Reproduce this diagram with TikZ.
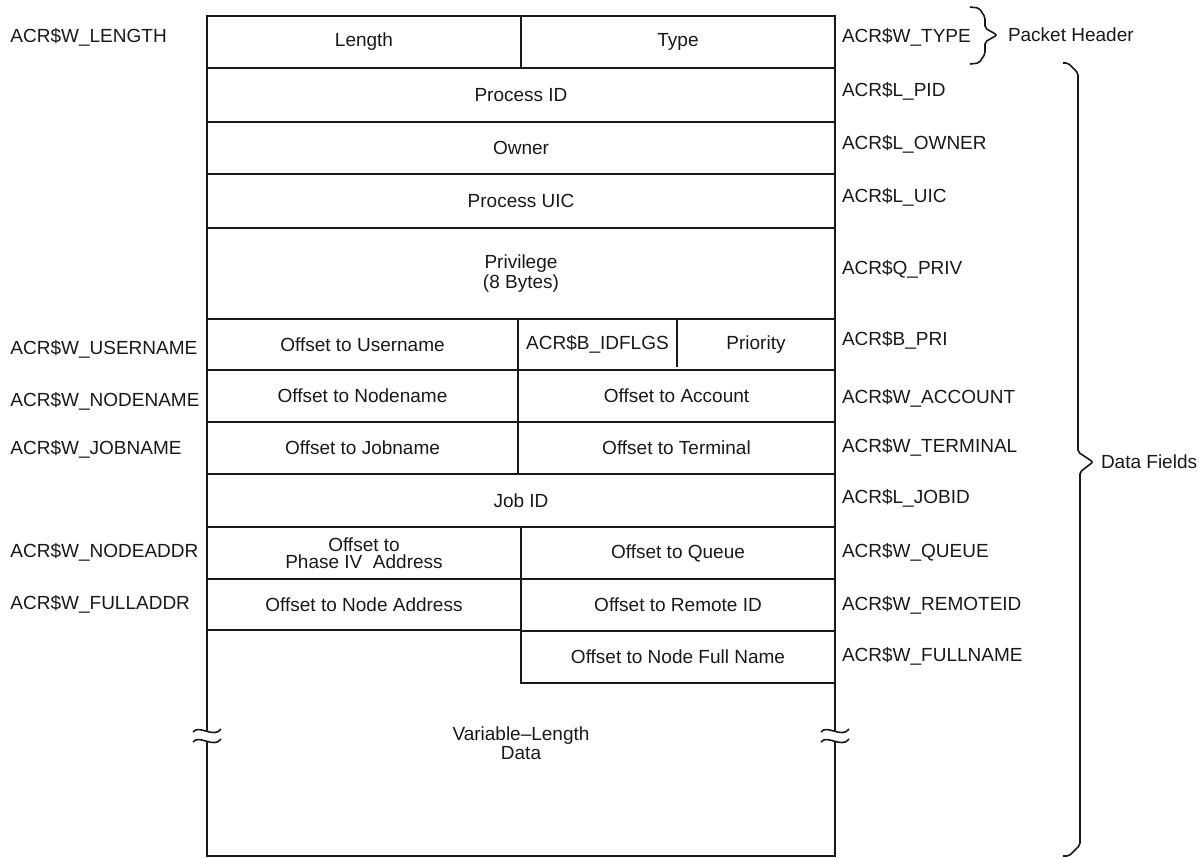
\documentclass[tikz,border=0pt]{standalone}
\usepackage{fontspec}
\setmainfont{Liberation Sans}
\usepackage{tikz}
\usetikzlibrary{fit}
\def\boxl{207}
\def\boxr{835}
\def\lblsep{841}

\begin{document}
\begin{tikzpicture}[x=0.5pt,y=-0.5pt,line width=1pt,color=black!90,
    font=\fontsize{9.5}{8.5}\selectfont]
    \tikzstyle{cell}=[draw,inner sep=0pt]
    \tikzstyle{field}=[anchor=base west,inner sep=0pt]
    \tikzstyle{txt}=[inner sep=0pt,align=center]
    \tikzstyle{brace}=[line width=0.8pt,rounded corners=1pt]
    \tikzstyle{wave}=[line width=0.8pt]

    \useasboundingbox (0,0) rectangle (1201,858);

    % Draw the packet header
    \node[cell,fit={(\boxl,16) (521,68)}] (len) {};
    \node[txt] at (len.center) {Length};
    \node[cell,fit={(521,16) (\boxr,68)}] (type) {};
    \node[txt] at (type.center) {Type};

    % Draw the full width rows
    \foreach \name/\ytop/\ybot/\txt in {pid/68/122/Process ID,owner/122/174/Owner,
        uic/174/228/Process UIC,priv/228/319/Privilege\\(8 Bytes),jobid/474/527/Job ID}
    {
        \node[cell,fit={(\boxl,\ytop) (\boxr,\ybot)}] (\name) {};
        \node[txt] at (\name.center) {\txt};
    }

    % Draw the half width rows
    \foreach \name/\xl/\xr/\ytop/\ybot/\txt in {usr/\boxl/518/319/370/Offset to Username,
        nodnm/\boxl/518/370/422/Offset to Nodename,acct/518/\boxr/370/422/Offset to Account,
        jobnm/\boxl/518/422/474/Offset to Jobname,term/518/\boxr/422/474/Offset to Terminal,
        ph4/\boxl/521/527/579/Offset to\\Phase IV\ \ Address,queue/521/\boxr/527/579/Offset to Queue,
        naddr/\boxl/521/579/630/Offset to Node Address,rid/521/\boxr/579/631/Offset to Remote ID,
        fname/521/\boxr/631/683/Offset to Node Full Name}
    {
        \node[cell,fit={(\xl,\ytop) (\xr,\ybot)}] (\name) {};
        \node[txt] at (\name.center) {\txt};
    }

    % The flags and priority share one half row
    \node[cell,fit={(518,319) (\boxr,370)}] (flgrow) {};
    \node[txt,anchor=base] (flg) at (597.5,349) {ACR\$B\_IDFLGS};
    \node[txt,anchor=base] (prio) at (756,349) {Priority};
    \draw (677,319) -- (677,367);

    % Draw the variable length data area
    \draw (\boxl,630) -- (\boxl,731);
    \draw (\boxl,741) -- (\boxl,856) -- (\boxr,856) -- (\boxr,741);
    \draw (\boxr,731) -- (\boxr,683);
    \foreach \x in {\boxl,\boxr}
        \foreach \y in {731,741}
            \draw[wave] (\x-14,\y+1) .. controls (\x-8,\y-7) and (\x+7,\y+8) .. (\x+14,\y-2);
    \node[txt] (vdata) at (521,743) {Variable\textendash Length\\Data};

    % Label the fields on the left
    \foreach \name/\y/\txt in {wlen/42/ACR\$W\_LENGTH,wusr/354/ACR\$W\_USERNAME,
        wnod/406/ACR\$W\_NODENAME,wjob/454/ACR\$W\_JOBNAME,
        wnaddr/557/ACR\$W\_NODEADDR,wfaddr/609/ACR\$W\_FULLADDR}
        \node[field] (\name) at (9.5,\y) {\txt};

    % Label the fields on the right
    \foreach \name/\y/\txt in {wtype/42/ACR\$W\_TYPE,lpid/96/ACR\$L\_PID,
        lown/149/ACR\$L\_OWNER,luic/202/ACR\$L\_UIC,qpriv/274/ACR\$Q\_PRIV,
        bpri/345/ACR\$B\_PRI,wacct/403/ACR\$W\_ACCOUNT,wterm/452/ACR\$W\_TERMINAL,
        ljob/503/ACR\$L\_JOBID,wque/557/ACR\$W\_QUEUE,wrid/610/ACR\$W\_REMOTEID,
        wfull/661/ACR\$W\_FULLNAME}
        \node[field] (\name) at (\lblsep,\y) {\txt};

    % Group the fields with braces
    \node[anchor=west,inner sep=0pt] (hdr) at (1007,35) {Packet Header};
    \draw[brace] (970,7) -- (979,8) -- (985,17) -- (985,28) -- (997,35)
        -- (985,42) -- (985,54) -- (979,63) -- (970,64);
    \node[anchor=west,inner sep=0pt] (data) at (1100,462) {Data Fields};
    \draw[brace] (1063,63) -- (1068,63) -- (1078,73) -- (1078,452) -- (1093,462)
        -- (1080,472) -- (1080,845) -- (1069,856) -- (1063,856);
\end{tikzpicture}
\end{document}
